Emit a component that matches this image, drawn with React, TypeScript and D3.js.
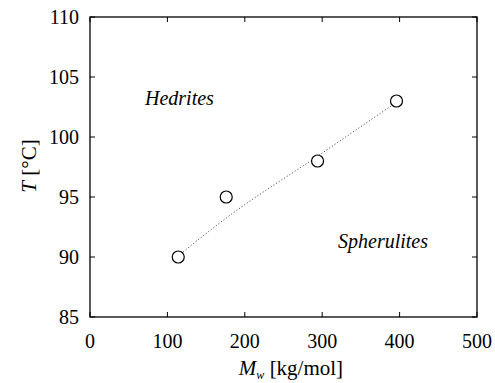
import React from "react";
import * as d3 from "d3";

const xTicks = [0, 100, 200, 300, 400, 500];
const yTicks = [85, 90, 95, 100, 105, 110];
const mw = [114, 176, 294, 396];
const temps = [90, 95, 98, 103];
const fitMw = [114, 175, 294, 396];
const fitT = [90.1, 93.2, 98.4, 102.9];

const W = 495, H = 383;
const L = 90, R = 477, T = 17, B = 317;

export default function App() {
  const x = d3.scaleLinear().domain([0, 500]).range([L, R]);
  const y = d3.scaleLinear().domain([85, 110]).range([B, T]);
  const line = d3
    .line<number>()
    .x((_, i) => x(fitMw[i]))
    .y((d) => y(d))
    .curve(d3.curveMonotoneX);
  const font = "'Liberation Serif', 'Times New Roman', serif";
  const tl = 5;
  return (
    <svg
      width={W}
      height={H}
      style={{ position: "absolute", left: 0, top: 0, background: "#fff" }}
      fontFamily={font}
    >
      <rect x={L} y={T} width={R - L} height={B - T} fill="none" stroke="#000" strokeWidth={1.3} />
      {xTicks.map((t) => (
        <g key={"x" + t}>
          <line x1={x(t)} x2={x(t)} y1={B} y2={B - tl} stroke="#000" />
          <line x1={x(t)} x2={x(t)} y1={T} y2={T + tl} stroke="#000" />
          <text x={x(t)} y={348} textAnchor="middle" fontSize={20}>
            {t}
          </text>
        </g>
      ))}
      {yTicks.map((t) => (
        <g key={"y" + t}>
          <line x1={L} x2={L + tl} y1={y(t)} y2={y(t)} stroke="#000" />
          <line x1={R} x2={R - tl} y1={y(t)} y2={y(t)} stroke="#000" />
          <text x={79} y={y(t) + 7} textAnchor="end" fontSize={20}>
            {t}
          </text>
        </g>
      ))}
      <path d={line(fitT) || ""} fill="none" stroke="#555" strokeWidth={1} strokeDasharray="1.2,2" />
      {mw.map((m, i) => (
        <circle key={i} cx={x(m)} cy={y(temps[i])} r={6} fill="#fff" stroke="#000" strokeWidth={1.2} />
      ))}
      <text x={145} y={105} fontSize={20} fontStyle="italic">
        Hedrites
      </text>
      <text x={338} y={248} fontSize={20} fontStyle="italic">
        Spherulites
      </text>
      <text x={291} y={375} textAnchor="middle" fontSize={21}>
        <tspan fontStyle="italic">M</tspan>
        <tspan fontStyle="italic" fontSize={12} dy={4}>w</tspan>
        <tspan dy={-4}> [kg/mol]</tspan>
      </text>
      <text transform={`translate(36,166) rotate(-90)`} textAnchor="middle" fontSize={21}>
        <tspan fontStyle="italic">T</tspan>
        <tspan> [°C]</tspan>
      </text>
    </svg>
  );
}
